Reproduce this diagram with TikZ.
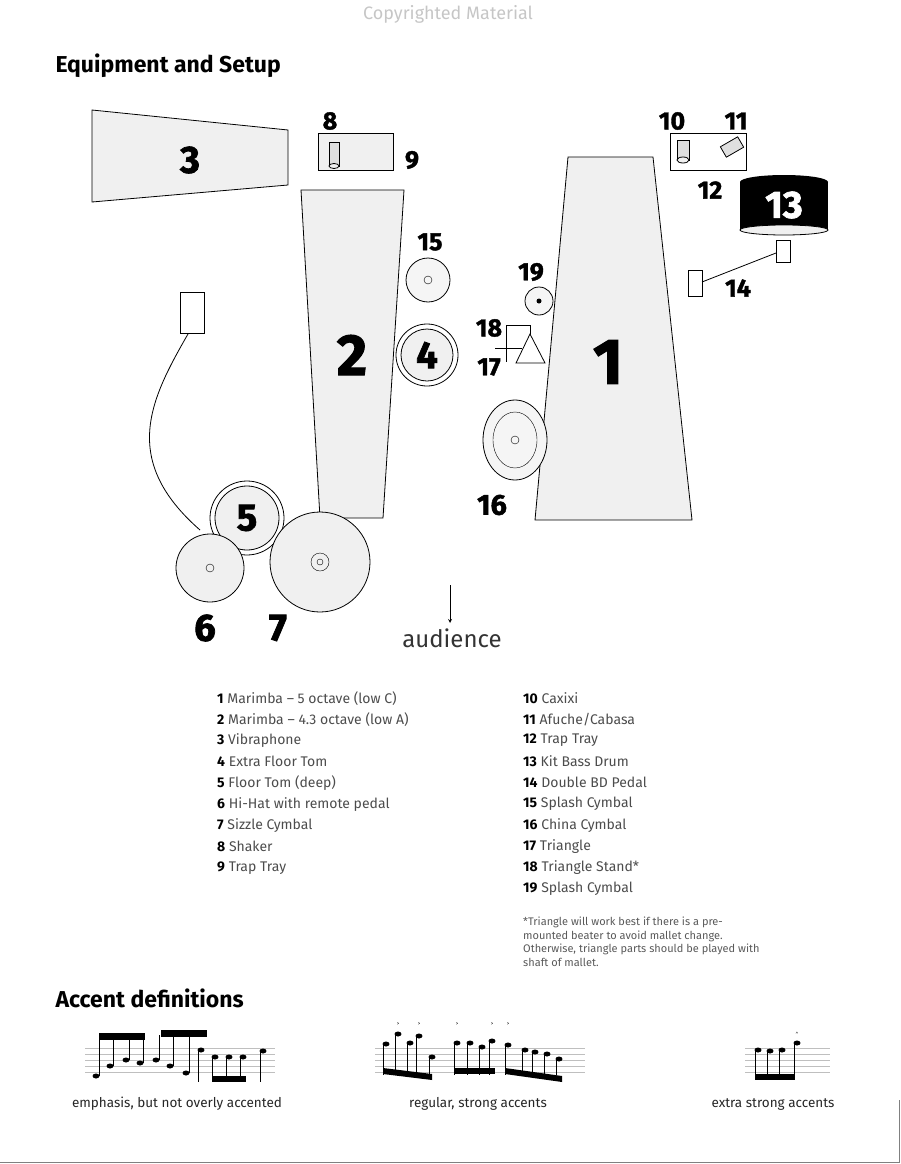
\documentclass[tikz,border=0pt]{standalone}
\usepackage{fontspec}
\setmainfont{Fira Sans}
\begin{document}
\begin{tikzpicture}%
	[x=1pt, y=-1pt,
	inst/.style={draw=black, thick, fill=gray!12},
	num/.style={font=\fontsize{38}{38}\selectfont\bfseries\addfontfeature{FakeBold=2}},
	lbl/.style={font=\fontsize{25}{25}\selectfont\bfseries\addfontfeature{FakeBold=1.5}},
	leg/.style={font=\fontsize{14}{16}\selectfont\color{black!70}, anchor=west, inner sep=0pt},
	captxt/.style={font=\fontsize{13.5}{14}\selectfont\color{black!85}},
	staff/.style={gray!50, thin},
	note/.style={fill=black}]
%
%% Frame of the page
%%
\useasboundingbox (0,0) rectangle (900,1164);
\draw[gray, thick] (0,1162) -- (899,1162) -- (899,1100);
\node[font=\fontsize{18}{18}\selectfont, text=gray!45] (copy) at (448,14) {Copyrighted Material};
\node[font=\fontsize{23}{23}\selectfont\bfseries, anchor=west] (title) at (52,66) {Equipment and Setup};
%%
%% Instruments
%%
\draw[inst] (92,110) -- (288,130) -- (288,185) -- (92,202) -- cycle;
\node[num] (n3) at (190,160) {3};
\draw[inst] (318,133) rectangle (393,170);
\draw[inst, fill=gray!25] (329,142) rectangle (339,166);
\draw[inst] (334,166) ellipse (5 and 2.5);
\node[lbl] (n8) at (330,121) {8};
\node[lbl] (n9) at (412,160) {9};
\draw[inst] (301,190) -- (404,190) -- (383,518) -- (320,518) -- cycle;
\node[num, font=\fontsize{58}{58}\selectfont\bfseries\addfontfeature{FakeBold=2}] (n2) at (352,355) {2};
\draw[inst, fill=gray!8] (428,280) circle (22);
\draw (428,280) circle (4);
\node[lbl] (n15) at (430,242) {15};
\draw[inst, fill=white] (427,355) circle (31);
\draw[thick, fill=gray!12] (427,355) circle (26);
\node[num] (n4) at (427,355) {4};
\draw[inst] (568,157) -- (653,157) -- (692,520) -- (535,520) -- cycle;
\node[num, font=\fontsize{64}{64}\selectfont\bfseries\addfontfeature{FakeBold=2}] (n1) at (608,362) {1};
%% trap tray with caxixi and afuche
\draw[inst, fill=white] (670,133) rectangle (746,170);
\draw[inst, fill=gray!25] (677,140) rectangle (689,160);
\draw[inst] (683,160) ellipse (6 and 3);
\draw[inst, fill=gray!25, rotate around={30:(732,147)}] (722,141) rectangle (742,153);
\node[lbl] (n10) at (672,121) {10};
\node[lbl] (n11) at (736,121) {11};
\node[lbl] (n12) at (710,190) {12};
%% kit bass drum and pedal
\fill (740,182) rectangle (828,230);
\fill (784,182) ellipse (44 and 7);
\draw[thick, fill=gray!12] (784,230) ellipse (44 and 5);
\node[num, text=white] (n13) at (784,205) {13};
\draw[inst, fill=white] (776,240) rectangle (790,262);
\draw[inst, fill=white] (688,270) rectangle (702,296);
\draw[thick] (702,282) -- (776,253);
\node[lbl] (n14) at (738,288) {14};
%% splash, triangle and stand
\draw[inst, fill=gray!8] (539,301) circle (14);
\fill (539,301) circle (2.5);
\node[lbl] (n19) at (531,272) {19};
\draw[thick] (530,335) -- (530,325) -- (506,325) -- (506,362);
\draw[thick] (495,348) -- (522,348);
\draw[thick, fill=white] (516,363) -- (545,363) -- (530,334) -- cycle;
\node[lbl] (n18) at (489,328) {18};
\node[lbl] (n17) at (489,367) {17};
\draw[inst, fill=gray!8] (515,440) ellipse (32 and 40);
\draw (515,440) ellipse (22 and 28);
\draw (515,440) circle (4);
\node[lbl, font=\fontsize{29}{29}\selectfont\bfseries\addfontfeature{FakeBold=1.5}] (n16) at (492,505) {16};
%% hi-hat remote, toms and cymbals
\draw[inst, fill=white] (180,292) rectangle (204,333);
\draw[thick] (188,334) .. controls (150,400) and (120,460) .. (200,530);
\draw[inst, fill=white] (247,518) circle (37);
\draw[thick, fill=gray!12] (247,518) circle (32);
\node[num] (n5) at (247,518) {5};
\draw[inst] (210,568) circle (34);
\draw (210,568) circle (4);
\node[num] (n6) at (205,628) {6};
\draw[inst] (320,562) circle (50);
\draw (320,562) circle (9);
\draw (320,562) circle (3);
\node[num] (n7) at (278,628) {7};
\coordinate (aud) at (450,585);
\node[font=\fontsize{24}{24}\selectfont\color{black!80}, inner sep=1pt] (audience) at (452,638) {audience};
\draw[thick, -stealth] (aud) -- ++(0,38);
%%
%% Legend
%%
\foreach \t [count=\i] in {Marimba -- 5 octave (low C), Marimba -- 4.3 octave (low A), Vibraphone, Extra Floor Tom, Floor Tom (deep), Hi-Hat with remote pedal, Sizzle Cymbal, Shaker, Trap Tray}
  \node[leg] (l\i) at (217,677+21.2*\i) {\textbf{\color{black}\i} \t};
\foreach \t [count=\i from 10] in {Caxixi, Afuche/Cabasa, Trap Tray, Kit Bass Drum, Double BD Pedal, Splash Cymbal, China Cymbal, Triangle, Triangle Stand*, Splash Cymbal}
  \node[leg] (l\i) at (523,698+21.2*\i-212) {\textbf{\color{black}\i} \t};
\node[leg, font=\fontsize{11}{13.5}\selectfont\color{black!65}, anchor=north west, align=left] (foot) at (523,917)
  {*Triangle will work best if there is a pre-\\mounted beater to avoid mallet change.\\Otherwise, triangle parts should be played with\\shaft of mallet.};
%%
%% Accent definitions
%%
\node[font=\fontsize{23}{23}\selectfont\bfseries, anchor=west] (title2) at (52,998) {Accent definitions};
\foreach \sx/\ex in {85/275, 375/585, 745/830}
  \foreach \k in {0,...,4}
    \draw[staff] (\sx,1048+6*\k) -- (\ex,1048+6*\k);
%% group 1
\foreach \nx/\ny in {96/1076, 110/1066, 126/1060, 140/1063, 156/1060, 170/1066, 186/1073}
  {\fill[note] (\nx,\ny) ellipse (3.5 and 2.5); \draw (\nx+3,\ny) -- (\nx+3,1035);}
\fill (99,1033) rectangle (145,1040); \fill (161,1030) rectangle (207,1037);
\foreach \nx/\ny in {201/1050, 215/1057, 229/1057, 243/1057, 263/1051}
  {\fill[note] (\nx,\ny) ellipse (3.5 and 2.5); \draw (\nx-3,\ny) -- (\nx-3,1082);}
\fill (212,1076) rectangle (246,1082);
%% group 2
\foreach \nx/\ny in {386/1044, 398/1034, 410/1043, 419/1036, 432/1057, 457/1043, 470/1043, 482/1047, 492/1041, 508/1045, 525/1050, 535/1052, 547/1054, 559/1059}
  {\fill[note] (\nx,\ny) ellipse (3.5 and 2.5); \draw (\nx-3,\ny) -- (\nx-3,1075);}
\fill (383,1068) -- (432,1074) -- (432,1080) -- (383,1074) -- cycle;
\fill (454,1068) rectangle (495,1074);
\fill (505,1068) -- (562,1076) -- (562,1082) -- (505,1074) -- cycle;
\foreach \ax in {398, 419, 457, 492, 508}
  \node[font=\tiny, inner sep=0pt] at (\ax,1024) {>};
%% group 3
\foreach \nx/\ny in {758/1050, 770/1051, 782/1050, 797/1043}
  {\fill[note] (\nx,\ny) ellipse (3.5 and 2.5); \draw (\nx-3,\ny) -- (\nx-3,1080);}
\fill (755,1074) rectangle (795,1080);
\node[font=\tiny, inner sep=0pt] at (797,1034) {\textasciicircum};
\node[captxt] (c1) at (177,1104) {emphasis, but not overly accented};
\node[captxt] (c2) at (478,1104) {regular, strong accents};
\node[captxt] (c3) at (773,1104) {extra strong accents};
%%
\end{tikzpicture}
\end{document}
